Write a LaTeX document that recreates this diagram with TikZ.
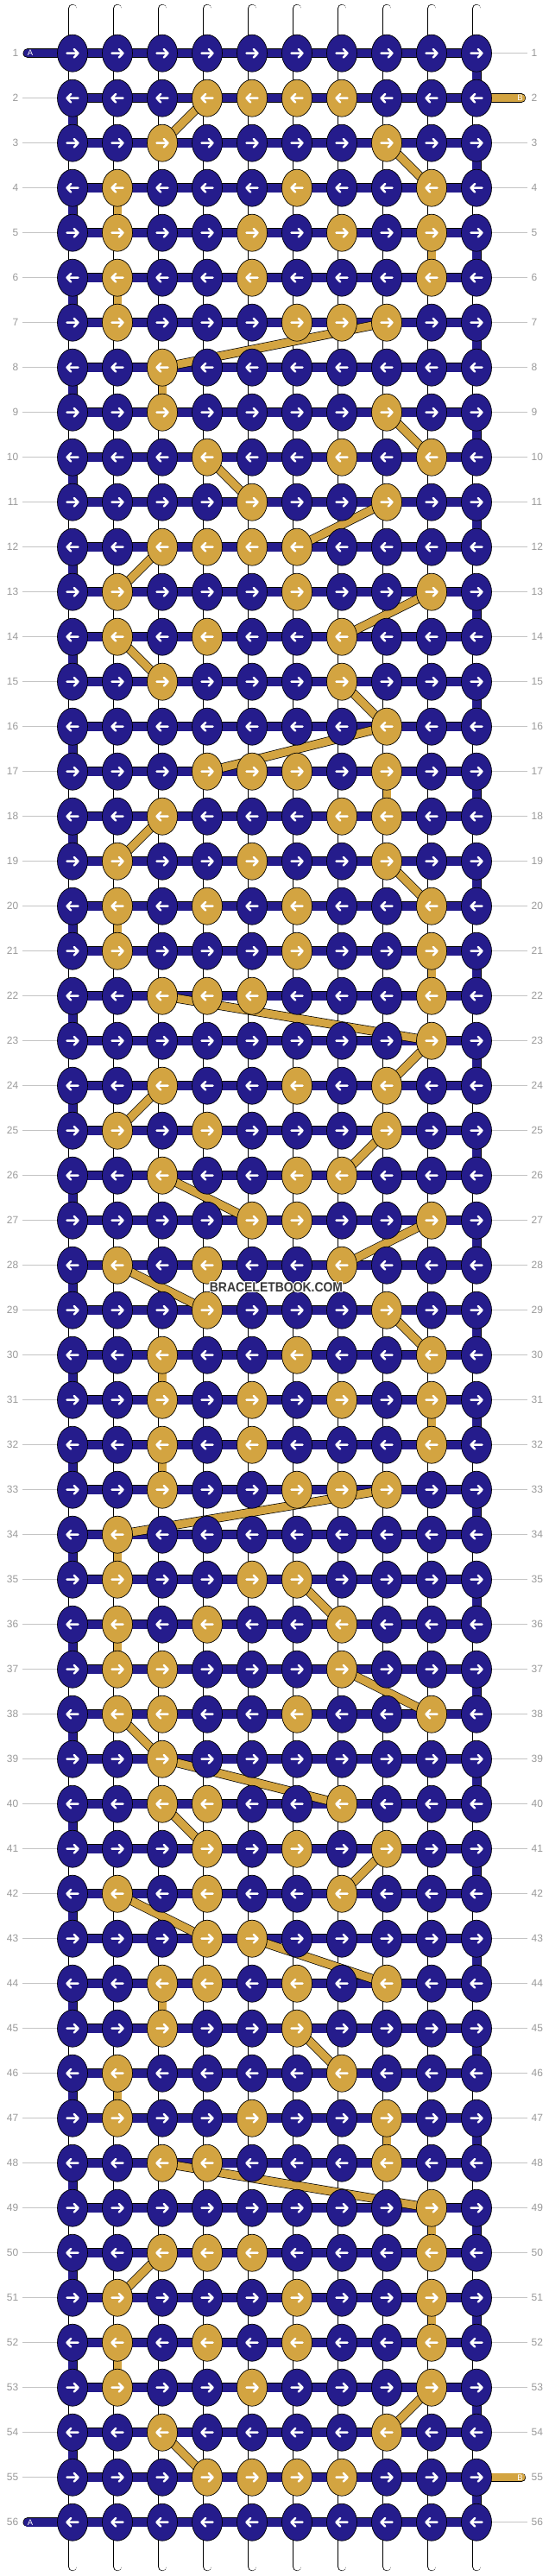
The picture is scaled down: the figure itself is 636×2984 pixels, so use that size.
\documentclass[tikz,border=0pt]{standalone}
\usepackage{fontspec}
\setmainfont{Liberation Sans}
\usepackage{contour}
\contourlength{1.1pt}
\usetikzlibrary{shapes.geometric}
\definecolor{bbblue}{HTML}{251C8C}
\definecolor{bbgold}{HTML}{D3A441}
\definecolor{labgray}{HTML}{9A9A9A}
\definecolor{linegray}{HTML}{C4C4C4}
\definecolor{wmgray}{HTML}{3A3A3A}
\pgfdeclarelayer{bg}
\pgfdeclarelayer{mid}
\pgfsetlayers{bg,mid,main}
\def\goldlist{,2-4,2-5,2-6,2-7,3-3,3-8,4-2,4-6,4-9,5-2,5-5,5-7,5-9,6-2,6-5,6-9,%
7-2,7-6,7-7,7-8,8-3,9-3,9-8,10-4,10-7,10-9,11-5,11-8,12-3,12-4,12-5,12-6,%
13-2,13-6,13-9,14-2,14-4,14-7,15-3,15-7,16-8,17-4,17-5,17-6,17-8,18-3,18-7,18-8,%
19-2,19-5,19-8,20-2,20-4,20-6,20-9,21-2,21-6,21-9,22-3,22-4,22-5,22-9,23-9,%
24-3,24-6,24-8,25-2,25-4,25-8,26-3,26-6,26-7,27-5,27-6,27-9,28-2,28-4,28-7,%
29-4,29-8,30-3,30-6,30-9,31-3,31-5,31-7,31-9,32-3,32-5,32-9,33-3,33-6,33-7,33-8,%
34-2,35-2,35-5,35-6,36-2,36-4,36-7,37-2,37-3,37-7,38-2,38-3,38-6,38-9,39-3,%
40-3,40-4,40-7,41-4,41-6,41-8,42-2,42-4,42-7,43-4,43-5,44-3,44-4,44-6,44-8,%
45-3,45-6,46-2,46-7,47-2,47-5,47-8,48-3,48-4,48-8,49-9,50-3,50-4,50-5,50-9,%
51-2,51-6,51-9,52-2,52-4,52-6,52-9,53-2,53-5,53-9,54-3,54-8,55-4,55-5,55-6,55-7,}
\makeatletter
\newcommand\setknotcolor[2]{\edef\kn@tmp{\noexpand\in@{,#1-#2,}{\goldlist}}\kn@tmp
  \ifin@\def\kcol{bbgold}\else\def\kcol{bbblue}\fi}
\makeatother
\begin{document}
\begin{tikzpicture}[x=1pt,y=-1pt,
  knot/.style={ellipse, draw=black, line width=0.7pt, minimum width=35pt, minimum height=43pt, inner sep=0pt},
  knotarrow/.style={draw=white, line width=2.5pt, line cap=round, line join=round},
  whitestring/.style={draw=black, line width=0.7pt, double=white, double distance=9pt, line cap=round},
  stringstripe/.style={draw=linegray, line width=0.6pt, double=white, double distance=3.2pt},
  blueline/.style={draw=black, line width=0.7pt, double=bbblue, double distance=9.6pt},
  goldline/.style={draw=black, line width=0.7pt, double=bbgold, double distance=9pt},
  rowlabel/.style={font=\fontsize{12}{12}\selectfont, text=labgray, inner sep=0pt},
  guide/.style={draw=linegray, line width=0.8pt},
  tailtext/.style={font=\fontsize{9.5}{9.5}\selectfont, text=white, inner sep=0pt}
]
\useasboundingbox (0,0) rectangle (636,2984);
\begin{pgfonlayer}{bg}
  \fill[white] (0,0) rectangle (636,2984);
\end{pgfonlayer}
% knots
\foreach \r in {1,...,56} {
  \ifodd\r\relax \def\dir{1}\else\def\dir{-1}\fi
  \foreach \i in {1,...,10} {
    \setknotcolor{\r}{\i}
    \node[knot, fill=\kcol] (k-\r-\i) at ({84+(\i-1)*52},{61.7+(\r-1)*52}) {};
    \draw[knotarrow, shift={(k-\r-\i.center)}, xscale=\dir] (-6.5,0) -- (6.5,0) (1.8,-4.8) -- (6.5,0) -- (1.8,4.8);
  }
}
% ends of strings
\foreach \i in {1,...,10} {
  \coordinate (t-\i) at ({84+(\i-1)*52},10);
  \coordinate (b-\i) at ({84+(\i-1)*52},2973);
}
\coordinate (ta-1) at (32,61.7);
\coordinate (ta-56) at (32,{61.7+55*52});
\coordinate (tb-2) at (604,113.7);
\coordinate (tb-55) at (604,{61.7+54*52});
% row labels and guides
\foreach \r in {1,...,56} {
  \node[rowlabel, anchor=east] (ll-\r) at (21.5,{61.7+(\r-1)*52}) {\r};
  \node[rowlabel, anchor=west] (rl-\r) at (615.5,{61.7+(\r-1)*52}) {\r};
  \coordinate (gl-\r) at (26,{61.7+(\r-1)*52});
  \coordinate (gr-\r) at (611,{61.7+(\r-1)*52});
}
\begin{pgfonlayer}{bg}
  \foreach \r in {2,...,55} { \draw[guide] (gl-\r) -- (k-\r-1.center); }
  \foreach \r in {1,3,4,...,54,56} { \draw[guide] (k-\r-10.center) -- (gr-\r); }
  \foreach \i in {1,...,10} {
    \draw[whitestring] (t-\i) -- (b-\i);
    \draw[stringstripe] (t-\i) -- (b-\i);
  }
\end{pgfonlayer}
\begin{pgfonlayer}{mid}
  % working string turns at the edges
  \foreach \r in {1,...,55} {
    \pgfmathtruncatemacro\rn{\r+1}
    \ifodd\r\relax \def\ec{10}\else\def\ec{1}\fi
    \draw[blueline] (k-\r-\ec.center) -- (k-\rn-\ec.center);
  }
  % rows
  \foreach \r in {2,...,55} { \draw[blueline] (k-\r-1.center) -- (k-\r-10.center); }
  \draw[blueline, line cap=round] (ta-1) -- (k-1-10.center);
  \draw[blueline, line cap=round] (ta-56) -- (k-56-10.center);
  % gold string
  \draw[goldline, line cap=round] (k-2-10.center) -- (tb-2);
  \draw[goldline, line cap=round] (k-55-10.center) -- (tb-55);
  \foreach \ra/\ca/\rb/\cb in {2/4/3/3, 3/8/4/9, 4/2/5/2, 5/9/6/9, 6/2/7/2, 7/8/8/3, 8/3/9/3,
    9/8/10/9, 10/4/11/5, 11/8/12/6, 12/3/13/2, 13/9/14/7, 14/2/15/3, 15/7/16/8, 16/8/17/4,
    17/8/18/8, 18/3/19/2, 19/8/20/9, 20/2/21/2, 21/9/22/9, 22/3/23/9, 23/9/24/8, 24/3/25/2,
    25/8/26/7, 26/3/27/5, 27/9/28/7, 28/2/29/4, 29/8/30/9, 30/3/31/3, 31/9/32/9, 32/3/33/3,
    33/8/34/2, 34/2/35/2, 35/6/36/7, 36/2/37/2, 37/7/38/9, 38/2/39/3, 39/3/40/7, 40/3/41/4,
    41/8/42/7, 42/2/43/4, 43/5/44/8, 44/3/45/3, 45/6/46/7, 46/2/47/2, 47/8/48/8, 48/3/49/9,
    49/9/50/9, 50/3/51/2, 51/9/52/9, 52/2/53/2, 53/9/54/8, 54/3/55/4} {
    \draw[goldline] (k-\ra-\ca.center) -- (k-\rb-\cb.center);
  }
\end{pgfonlayer}
% tail letters
\node[tailtext] (lab-a1) at (35,61.7) {A};
\node[tailtext] (lab-a56) at (35,{61.7+55*52}) {A};
\node[tailtext] (lab-b2) at (602.5,113.7) {B};
\node[tailtext] (lab-b55) at (602.5,{61.7+54*52}) {B};
% watermark
\node[font=\bfseries\fontsize{15.5}{15.5}\selectfont, text=wmgray, inner sep=0pt, xscale=0.9] (wm) at (320,1491.7) {\contour{white}{BRACELETBOOK.COM}};
\end{tikzpicture}
\end{document}
